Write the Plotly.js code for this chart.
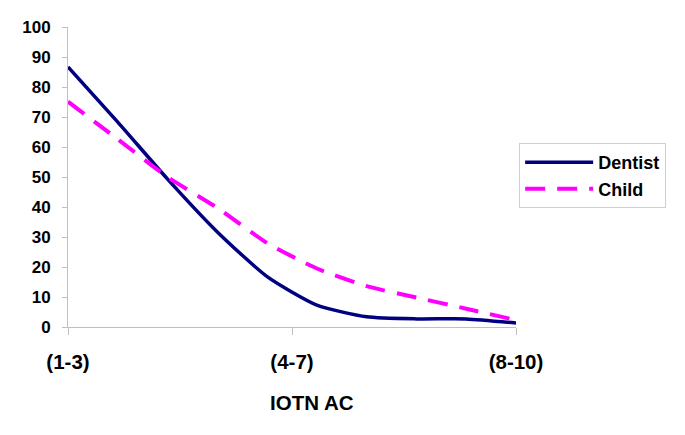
<!DOCTYPE html>
<html>
<head>
<meta charset="utf-8">
<script src="https://cdn.plot.ly/plotly-3.0.1.min.js"></script>
<style>html,body{margin:0;padding:0;background:#fff;}#chart{width:685px;height:435px;}</style>
</head>
<body>
<div id="chart"></div>
<script>
// IOTN AC grades (1..10), labelled in groups
const grades = [1, 2, 3, 4, 5, 6, 7, 8, 9, 10];
const dentist = [86.7, 68.3, 49.3, 31.7, 16.8, 7.3, 3.4, 2.7, 2.7, 1.3];
const child = [75.1, 62.6, 50.0, 39.7, 28.0, 19.5, 13.6, 9.8, 6.1, 2.3];
const tickPositions = [1, 5.5, 10];
const tickLabels = ['(1-3)', '(4-7)', '(8-10)'];
const yTicks = [0, 10, 20, 30, 40, 50, 60, 70, 80, 90, 100];

const fam = 'Liberation Sans, Arial, sans-serif';
const yFont = {family: fam, size: 17, color: '#000', weight: 'bold'};
const xFont = {family: fam, size: 20.5, color: '#000', weight: 'bold'};
const legFont = {family: fam, size: 18, color: '#000', weight: 'bold'};
const axisGrey = '#c0c0c0';

const traces = [
  {x: grades, y: dentist, name: 'Dentist', type: 'scatter', mode: 'lines',
   line: {color: '#000080', width: 3.5, shape: 'spline', smoothing: 0.6}},
  {x: grades, y: child, name: 'Child', type: 'scatter', mode: 'lines',
   line: {color: '#FF00FF', width: 4, dash: '20px,12px', shape: 'spline', smoothing: 0.6}}
];

const layout = {
  width: 685, height: 435,
  margin: {l: 68, r: 169, t: 27, b: 108},
  paper_bgcolor: '#fff', plot_bgcolor: '#fff',
  font: legFont,
  showlegend: true,
  legend: {xref: 'paper', yref: 'paper', x: 1.007, y: 0.613, xanchor: 'left', yanchor: 'top',
           bgcolor: '#fff', bordercolor: '#cfcfcf', borderwidth: 1,
           font: legFont, tracegroupgap: 0, itemwidth: 68},
  xaxis: {range: [1, 10], tickvals: tickPositions, ticktext: tickLabels,
          showgrid: false, zeroline: false, showline: true, linecolor: axisGrey, linewidth: 1,
          ticks: 'outside', ticklen: 7, tickcolor: axisGrey, tickfont: xFont,
          ticklabelstandoff: 9, fixedrange: true},
  yaxis: {range: [0, 100], tickvals: yTicks, showgrid: false, zeroline: false,
          showline: true, linecolor: axisGrey, linewidth: 1,
          ticks: 'outside', ticklen: 5, tickcolor: axisGrey, tickfont: yFont,
          ticklabelstandoff: 8, fixedrange: true},
  xaxis2: {overlaying: 'x', range: [1, 10], tickvals: tickPositions, showticklabels: false,
           showgrid: false, zeroline: false, showline: false, ticks: 'inside', ticklen: 5,
           tickcolor: axisGrey, side: 'bottom'},
  yaxis2: {overlaying: 'y', range: [0, 100], tickvals: yTicks, showticklabels: false,
           showgrid: false, zeroline: false, showline: false, ticks: 'inside', ticklen: 4,
           tickcolor: axisGrey, side: 'left'},
  annotations: [{text: 'IOTN AC', xref: 'paper', yref: 'paper', x: 0.545, y: -0.25,
                 xanchor: 'center', yanchor: 'middle', showarrow: false, font: xFont}]
};

Plotly.newPlot('chart', traces, layout, {displayModeBar: false, staticPlot: true});
</script>
</body>
</html>
